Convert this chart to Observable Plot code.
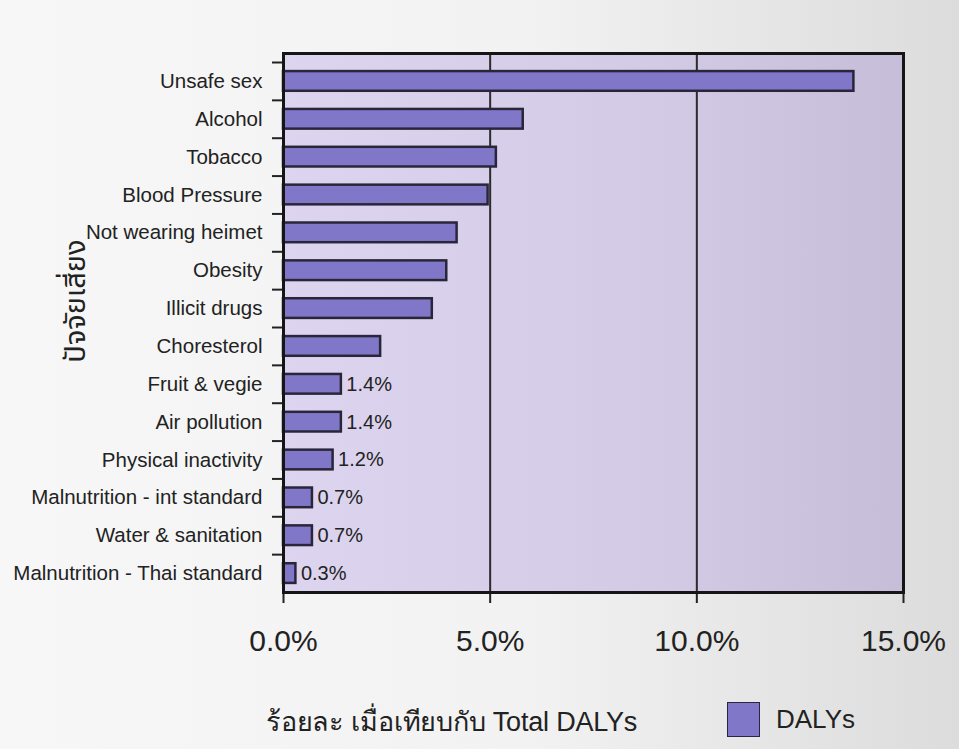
<!DOCTYPE html>
<html>
<head>
<meta charset="utf-8">
<script src="https://cdn.jsdelivr.net/npm/d3@7"></script>
<script src="https://cdn.jsdelivr.net/npm/@observablehq/plot@0.6"></script>
<style>
  html, body { margin: 0; padding: 0; }
  body {
    width: 959px; height: 749px; overflow: hidden; position: relative;
    background: linear-gradient(90deg, #f7f7f7 0%, #f2f2f2 55%, #dcdcdc 100%);
    font-family: "Liberation Sans", "Noto Sans", "DejaVu Sans", sans-serif;
    color: #222;
  }
  #chart { position: absolute; left: 0; top: 0; }
  #xtitle {
    position: absolute; left: 266px; top: 700px;
    font-size: 27px; white-space: nowrap; letter-spacing: -0.2px;
  }
  #legend {
    position: absolute; left: 727px; top: 702px;
    display: flex; align-items: center; gap: 16px; font-size: 26px;
  }
  #legend .swatch {
    width: 31px; height: 33px; background: #8177c9; border: 1.5px solid #2a2540;
  }
</style>
</head>
<body>
<div id="chart"></div>
<div id="xtitle"></div>
<div id="legend"><span class="swatch"></span><span id="legendLabel"></span></div>
<script>
// Risk factors, top to bottom
const risks = [
  "Unsafe sex",
  "Alcohol",
  "Tobacco",
  "Blood Pressure",
  "Not wearing heimet",
  "Obesity",
  "Illicit drugs",
  "Choresterol",
  "Fruit & vegie",
  "Air pollution",
  "Physical inactivity",
  "Malnutrition - int standard",
  "Water & sanitation",
  "Malnutrition - Thai standard"
];
// Share of total DALYs (%)
const shares = [13.8, 5.8, 5.15, 4.95, 4.2, 3.95, 3.6, 2.35, 1.4, 1.4, 1.2, 0.7, 0.7, 0.3];
// Risk factors whose value is printed next to the bar
const labelled = [
  "Fruit & vegie", "Air pollution", "Physical inactivity",
  "Malnutrition - int standard", "Water & sanitation", "Malnutrition - Thai standard"
];
const xTicks = [0, 5, 10, 15];
const gridLines = [5, 10];
const yTitle = "ปัจจัยเสี่ยง";
const xTitle = "ร้อยละ เมื่อเทียบกับ Total DALYs";
const seriesName = "DALYs";

const data = risks.map((risk, i) => ({risk, value: shares[i]}));
const barFill = "#8177c9";
const ink = "#222";

const marginTop = 53, marginBottom = 88, height = 680;
const insetTop = 9;
const bandStep = (height - marginBottom - marginTop - insetTop) / risks.length;

const chart = Plot.plot({
  width: 959,
  height,
  marginLeft: 283,
  marginRight: 56,
  marginTop,
  marginBottom,
  insetTop,
  style: {fontFamily: "'Liberation Sans', 'Noto Sans', sans-serif", color: ink, background: "transparent"},
  x: {domain: [0, 15]},
  y: {domain: risks, paddingInner: 0.48, paddingOuter: 0.24, round: false},
  marks: [
    Plot.frame({fill: "url(#plot-bg)"}),
    Plot.ruleX(gridLines, {stroke: "#2b2b2b", strokeWidth: 2}),
    Plot.barX(data, {y: "risk", x: "value", fill: barFill, stroke: "#29263a", strokeWidth: 2.5}),
    Plot.text(data.filter(d => labelled.includes(d.risk)), {
      y: "risk", x: "value", text: d => d.value.toFixed(1) + "%",
      textAnchor: "start", dx: 5, fontSize: 20, fill: ink
    }),
    Plot.axisX({
      ticks: xTicks, tickFormat: d => d.toFixed(1) + "%", tickSize: 11, tickPadding: 26,
      fontSize: 30, label: null, stroke: "#222", strokeWidth: 2, fill: ink
    }),
    Plot.axisY({tickSize: 0, tickPadding: 21, fontSize: 20.5, label: null, fill: ink}),
    Plot.axisY({text: null, tickSize: 11, dy: -bandStep / 2, label: null, stroke: "#222", strokeWidth: 2}),
    Plot.frame({stroke: "#151515", strokeWidth: 3}),
    Plot.text([yTitle], {
      frameAnchor: "left", dx: -208, dy: -22, rotate: -90, textAnchor: "middle",
      fontSize: 29, fill: ink, fontFamily: "'Noto Sans Thai', 'Loma', 'Garuda', sans-serif"
    })
  ]
});

// Soft left-to-right shading behind the bars
const defs = d3.select(chart).insert("defs", ":first-child");
const grad = defs.append("linearGradient").attr("id", "plot-bg").attr("x1", "0").attr("x2", "1").attr("y1", "0").attr("y2", "0");
grad.append("stop").attr("offset", "0%").attr("stop-color", "#ddd5ef");
grad.append("stop").attr("offset", "60%").attr("stop-color", "#d3cbe6");
grad.append("stop").attr("offset", "100%").attr("stop-color", "#c6bed8");

document.getElementById("chart").append(chart);
document.getElementById("xtitle").textContent = xTitle;
document.getElementById("legendLabel").textContent = seriesName;
</script>
</body>
</html>
